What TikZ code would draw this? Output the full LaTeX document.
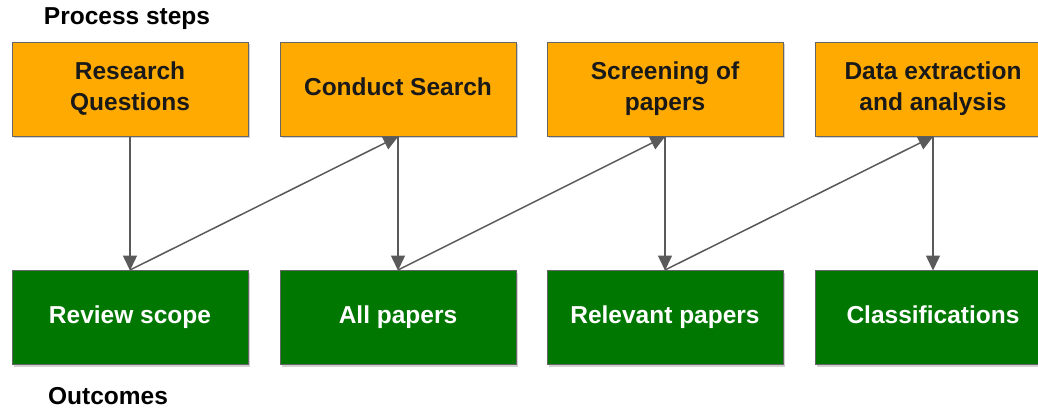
\documentclass[tikz,border=0pt]{standalone}
\usepackage{fontspec}
\setmainfont{Liberation Sans}
\usetikzlibrary{arrows.meta,shadows}
\definecolor{stepfill}{HTML}{FFAA00}
\definecolor{outfill}{HTML}{007700}
\definecolor{edgegray}{HTML}{666666}
\definecolor{linkgray}{HTML}{5A5A5A}
\begin{document}
\begin{tikzpicture}[x=1pt,y=-1pt,
  box/.style={draw=edgegray, line width=1pt, minimum width=236pt, minimum height=94pt,
    inner sep=0pt, align=center, font=\fontsize{24.5}{31}\selectfont\bfseries,
    drop shadow={shadow xshift=2pt, shadow yshift=-2pt, fill=black, opacity=0.18}},
  stepbox/.style={box, fill=stepfill, text=black!90},
  outbox/.style={box, fill=outfill, text=white},
  heading/.style={font=\fontsize{24.5}{30}\selectfont\bfseries, text=black, inner sep=0pt},
  link/.style={draw=linkgray, line width=1.5pt, -{Triangle[length=15pt,width=14pt]}, shorten >=-0.5pt}
]
\useasboundingbox (0,0) rectangle (1038,410);
\clip (0,0) rectangle (1038,410);
\fill[white] (0,0) rectangle (1038,410);

% process steps (top row)
\node[stepbox] (s1) at (130,89) {\strut Research\\Questions\strut};
\node[stepbox] (s2) at (398,89) {\strut Conduct Search\strut};
\node[stepbox] (s3) at (665,89) {\strut Screening of\\papers\strut};
\node[stepbox] (s4) at (933,89) {\strut Data extraction\\and analysis\strut};

% outcomes (bottom row)
\node[outbox] (o1) at (130,317.5) {\strut Review scope};
\node[outbox] (o2) at (398,317.5) {\strut All papers};
\node[outbox] (o3) at (665,317.5) {\strut Relevant papers};
\node[outbox] (o4) at (933,317.5) {\strut Classifications};

% row labels
\node[heading] (lp) at (127,19) {Process steps};
\node[heading] (lo) at (108,396) {Outcomes};

% each step yields its outcome
\foreach \i in {1,2,3,4}
  \draw[link] (s\i.south) -- (o\i.north);

% each outcome feeds the next step
\draw[link] (o1.north) -- (s2.south);
\draw[link] (o2.north) -- (s3.south);
\draw[link] (o3.north) -- (s4.south);
\end{tikzpicture}
\end{document}
